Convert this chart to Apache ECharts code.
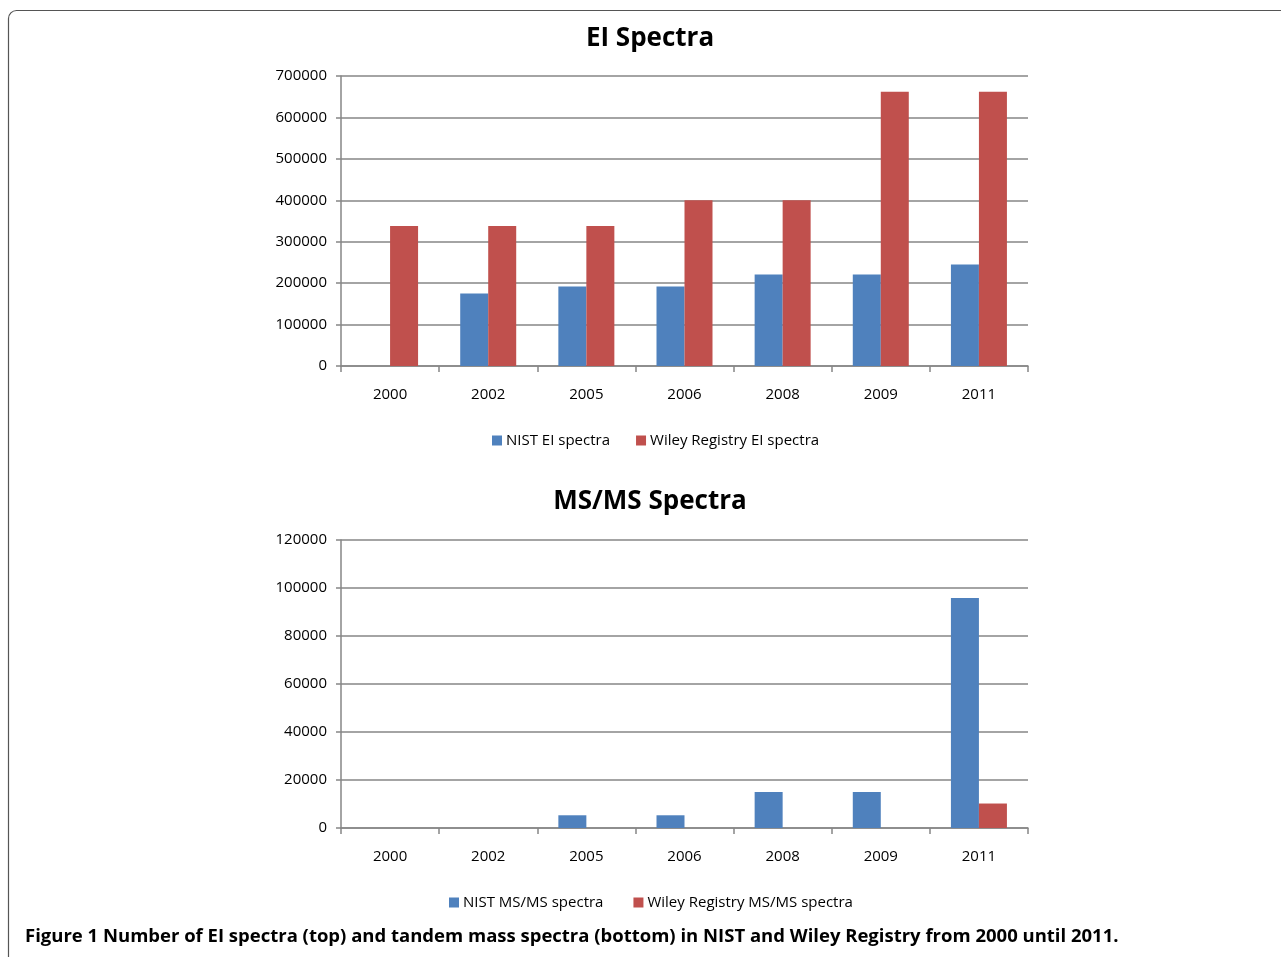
<!DOCTYPE html>
<html><head><meta charset="utf-8">
<script src="https://cdn.jsdelivr.net/npm/echarts@6/dist/echarts.min.js"></script>
<style>html,body{margin:0;padding:0;background:#fff}#c{width:1281px;height:957px}</style>
</head><body><div id="c"></div>
<script>
const years = ['2000','2002','2005','2006','2008','2009','2011'];
const nistEI = [0, 175000, 192000, 192000, 221000, 221000, 245000];
const wileyEI = [338000, 338000, 338000, 400000, 400000, 662000, 662000];
const nistMSMS = [0, 0, 5300, 5300, 15000, 15000, 95800];
const wileyMSMS = [0, 0, 0, 0, 0, 0, 10200];
const eiTicks = [0, 700000, 100000];
const msTicks = [0, 120000, 20000];

const FONT = '"Open Sans", "Noto Sans", sans-serif';
const BLUE = '#4F81BD', RED = '#C0504D', GRAY = '#868686';

function xAx(gi){
  return {type:'category', gridIndex:gi, data:years,
    axisLine:{lineStyle:{color:GRAY, width:1.5}},
    axisTick:{show:true, length:6, lineStyle:{color:GRAY, width:1.5}},
    axisLabel:{color:'#000', fontSize:15, fontFamily:FONT, margin:21}};
}
function yAx(gi, t){
  return {type:'value', gridIndex:gi, min:t[0], max:t[1], interval:t[2],
    axisLine:{show:true, lineStyle:{color:GRAY, width:1.5}},
    axisTick:{show:true, length:5, lineStyle:{color:GRAY, width:1.5}},
    axisLabel:{color:'#000', fontSize:15, fontFamily:FONT, margin:14, formatter: v => String(v)},
    splitLine:{lineStyle:{color:GRAY, width:1.5}}};
}
function bar(name, data, gi, color){
  return {type:'bar', name, data, xAxisIndex:gi, yAxisIndex:gi, barWidth:28, barGap:'0%',
    itemStyle:{color}, silent:true};
}
const chart = echarts.init(document.getElementById('c'));
chart.setOption({
  animation:false,
  title:[
    {text:'EI Spectra', left:645, top:21, textAlign:'center',
     textStyle:{fontSize:26, fontWeight:'bold', fontFamily:FONT, color:'#000'}},
    {text:'MS/MS Spectra', left:645, top:484, textAlign:'center',
     textStyle:{fontSize:26, fontWeight:'bold', fontFamily:FONT, color:'#000'}}
  ],
  legend:[
    {data:['NIST EI spectra','Wiley Registry EI spectra'], left:487, top:428, itemWidth:10, itemHeight:10, itemGap:26,
     icon:'rect', textStyle:{fontSize:15, fontFamily:FONT, color:'#000', padding:[0,0,0,-1]}, align:'left', selectedMode:false},
    {data:['NIST MS/MS spectra','Wiley Registry MS/MS spectra'], left:444, top:890, itemWidth:10, itemHeight:10, itemGap:30,
     icon:'rect', textStyle:{fontSize:15, fontFamily:FONT, color:'#000', padding:[0,0,0,-1]}, align:'left', selectedMode:false}
  ],
  grid:[
    {left:341, right:253, top:76, height:290},
    {left:341, right:253, top:540, height:288}
  ],
  xAxis:[xAx(0), xAx(1)],
  yAxis:[yAx(0, eiTicks), yAx(1, msTicks)],
  series:[
    bar('NIST EI spectra', nistEI, 0, BLUE),
    bar('Wiley Registry EI spectra', wileyEI, 0, RED),
    bar('NIST MS/MS spectra', nistMSMS, 1, BLUE),
    bar('Wiley Registry MS/MS spectra', wileyMSMS, 1, RED)
  ],
  graphic:[
    {type:'rect', shape:{x:8.5, y:10.5, width:1400, height:1100, r:[8,0,0,0]},
     style:{fill:'none', stroke:'#555', lineWidth:1.2}, silent:true},
    {type:'text', left:25, top:927, style:{text:'Figure 1 Number of EI spectra (top) and tandem mass spectra (bottom) in NIST and Wiley Registry from 2000 until 2011.',
      fontSize:18.5, fontWeight:'bold', fontFamily:FONT, fill:'#000'}}
  ]
});
</script></body></html>
